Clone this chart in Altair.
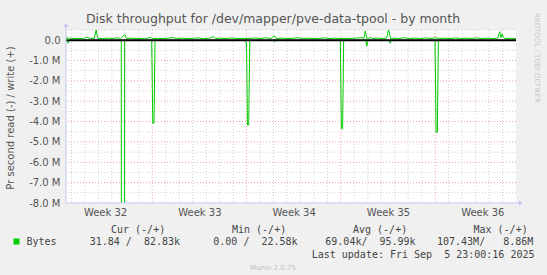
import altair as alt
import pandas as pd

TITLE = "Disk throughput for /dev/mapper/pve-data-tpool - by month"
Y_TITLE = "Pr second read (-) / write (+)"
SIDE_TEXT = "RRDTOOL / TOBI OETIKER"
FOOTER = "Munin 2.0.75"

# x = days since Monday 4 Aug 2025 00:00 (start of ISO week 32); y = MB/s
write_day = [0.60, 0.66, 0.74, 0.85, 1.2, 1.6, 1.9, 2.15, 2.4, 2.7, 2.84, 2.95, 3.3, 3.7, 4.1, 4.4,
             4.65, 4.96, 5.08, 5.4, 5.8, 6.2, 6.5, 6.87, 7.0, 7.4, 7.8, 8.2, 8.59, 8.8, 9.2, 9.6,
             10.0, 10.4, 10.8, 11.2, 11.56, 11.7, 12.1, 12.5, 12.9, 13.3, 13.7, 14.2, 14.6, 15.0,
             15.4, 15.8, 16.05, 16.2, 16.6, 17.0, 17.4, 17.8, 18.2, 18.6, 19.0, 19.4, 19.8, 20.2,
             20.6, 20.95, 21.3, 21.7, 22.1, 22.5, 22.72, 22.81, 22.95, 23.18, 23.35, 23.7, 24.1,
             24.4, 24.54, 24.7, 24.96, 25.3, 25.7, 26.1, 26.5, 26.9, 27.3, 27.7, 28.0, 28.3, 28.7,
             29.1, 29.5, 29.9, 30.3, 30.7, 31.1, 31.5, 31.9, 32.3, 32.65, 32.79, 32.88, 32.97,
             33.07, 33.2, 33.6, 34.0]
write_mb = [0.08, 0.16, 0.03, 0.10, 0.08, 0.09, 0.07, 0.15, 0.08, 0.09, 0.50, 0.09, 0.08, 0.10, 0.08, 0.12,
            0.08, 0.28, 0.08, 0.10, 0.08, 0.09, 0.07, 0.14, 0.08, 0.09, 0.08, 0.10, 0.13, 0.08, 0.10, 0.08,
            0.09, 0.11, 0.08, 0.09, 0.18, 0.08, 0.10, 0.08, 0.11, 0.08, 0.09, 0.08, 0.11, 0.08,
            0.12, 0.08, 0.22, 0.08, 0.10, 0.08, 0.09, 0.12, 0.08, 0.10, 0.08, 0.09, 0.11, 0.08,
            0.10, 0.08, 0.09, 0.08, 0.10, 0.12, 0.10, 0.45, 0.05, 0.14, 0.08, 0.10, 0.08,
            0.11, 0.52, 0.07, 0.10, 0.08, 0.12, 0.08, 0.10, 0.08, 0.11, 0.08, 0.12, 0.08, 0.10,
            0.08, 0.11, 0.08, 0.10, 0.08, 0.11, 0.08, 0.10, 0.08, 0.10, 0.42, 0.12, 0.30,
            0.14, 0.08, 0.09, 0.08]

read_day = [0.60, 0.70, 0.76, 0.84, 4.70, 4.78, 4.87, 4.95, 6.96, 7.04, 7.13, 7.21, 13.85, 13.93,
            14.00, 14.07, 14.16, 14.24, 16.00, 16.10, 16.20, 20.96, 21.04, 21.13, 21.21, 22.85,
            22.92, 23.00, 23.08, 24.58, 24.66, 24.75, 27.99, 28.07, 28.16, 28.24, 34.00]
read_mb = [-0.01, -0.02, -0.15, -0.01, -0.01, -107.43, -107.43, -0.01, -0.01, -4.08, -4.08, -0.01, -0.01, -0.12,
           -0.12, -4.17, -4.17, -0.01, -0.01, -0.08, -0.01, -0.01, -4.35, -4.35, -0.01, -0.01,
           -0.30, -0.05, -0.01, -0.01, -0.15, -0.01, -0.01, -4.52, -4.52, -0.01, -0.01]

week_label_days = [3.5, 10.5, 17.5, 24.5, 31.5]
week_line_days = [7, 14, 21, 28]
day_line_days = [d for d in range(1, 34) if d % 7 != 0]
y_tick_values = [0, -1, -2, -3, -4, -5, -6, -7, -8]
y_major_lines = [-1, -2, -3, -4, -5, -6, -7]
y_minor_lines = [0.5, -0.5, -1.5, -2.5, -3.5, -4.5, -5.5, -6.5, -7.5]

legend_headers = ["Cur (-/+)", "Min (-/+)", "Avg (-/+)", "Max (-/+)"]
legend_name = "Bytes"
legend_values = ["31.84 /  82.83k", "0.00 /  22.58k", "69.04k/  95.99k", "107.43M/   8.86M"]
last_update = "Last update: Fri Sep  5 23:00:16 2025"

GREEN = "#00CC00"
AXIS_COL = "#C4C4F4"
TEXT_COL = "#555555"
W, H = 450, 173
PAD_L, PAD_T = 66, 30

xs = alt.Scale(domain=[0.6, 34.0], nice=False, zero=False)
ys = alt.Scale(domain=[-8, 0.5], nice=False, zero=False)

x_axis = alt.Axis(values=week_label_days, labelExpr="'Week ' + format(32 + (datum.value - 3.5) / 7, 'd')",
                  grid=False, domain=False, ticks=False, labelFontSize=10, labelColor=TEXT_COL,
                  labelFont="DejaVu Sans", labelPadding=4, title=None)
y_axis = alt.Axis(values=y_tick_values,
                  labelExpr="datum.value == 0 ? '0.0' : '-' + format(-datum.value, '.1f') + ' M'",
                  grid=False, domain=False, ticks=False, labelFontSize=10, labelColor=TEXT_COL,
                  labelFont="DejaVu Sans", labelPadding=6, title=None)

X = alt.X("day:Q", scale=xs, axis=x_axis)
Y = alt.Y("mb:Q", scale=ys, axis=y_axis)

layers = []

layers.append(alt.Chart(pd.DataFrame({"day": day_line_days})).mark_rule(
    color="#D0D0D0", strokeWidth=1, strokeDash=[1, 2]).encode(x=X))
layers.append(alt.Chart(pd.DataFrame({"mb": y_minor_lines})).mark_rule(
    color="#D0D0D0", strokeWidth=1, strokeDash=[1, 2]).encode(y=Y))
layers.append(alt.Chart(pd.DataFrame({"day": week_line_days})).mark_rule(
    color="#EBA0A0", strokeWidth=1, strokeDash=[1, 2]).encode(x=X))
layers.append(alt.Chart(pd.DataFrame({"mb": y_major_lines})).mark_rule(
    color="#EBA0A0", strokeWidth=1, strokeDash=[1, 2]).encode(y=Y))

layers.append(alt.Chart(pd.DataFrame({"day": read_day, "mb": read_mb})).mark_line(
    color=GREEN, strokeWidth=1, clip=True).encode(x=X, y=Y, order="day:Q"))

layers.append(alt.Chart(pd.DataFrame({"mb": [0]})).mark_rule(color="black", strokeWidth=2).encode(y=Y))

layers.append(alt.Chart(pd.DataFrame({"day": write_day, "mb": write_mb})).mark_line(
    color=GREEN, strokeWidth=1, clip=True).encode(x=X, y=Y, order="day:Q"))

# axis lines with arrows
layers.append(alt.Chart(pd.DataFrame({"a": [0]})).mark_rule(color=AXIS_COL, strokeWidth=1).encode(
    x=alt.value(0), y=alt.value(H), y2=alt.value(-5)))
layers.append(alt.Chart(pd.DataFrame({"a": [0]})).mark_rule(color=AXIS_COL, strokeWidth=1).encode(
    x=alt.value(0), x2=alt.value(W + 4), y=alt.value(H)))
layers.append(alt.Chart(pd.DataFrame({"a": [0]})).mark_point(
    shape="triangle-up", filled=True, size=22, color=AXIS_COL, opacity=1).encode(
    x=alt.value(0), y=alt.value(-5)))
layers.append(alt.Chart(pd.DataFrame({"a": [0]})).mark_point(
    shape="triangle-right", filled=True, size=22, color=AXIS_COL, opacity=1).encode(
    x=alt.value(W + 5), y=alt.value(H)))


def txt(s, x, y, size=10, color="#444444", font="DejaVu Sans Mono", align="left", angle=0):
    s = s.replace(" ", "\u00a0") if font == "DejaVu Sans Mono" else s
    return alt.Chart(pd.DataFrame({"t": [s]})).mark_text(
        align=align, baseline="alphabetic", fontSize=size, font=font, color=color, angle=angle
    ).encode(x=alt.value(x), y=alt.value(y), text="t:N")


layers.append(txt(TITLE, 273 - PAD_L, 23 - PAD_T, size=12.5, color="#555555", font="DejaVu Sans", align="center"))
layers.append(txt(Y_TITLE, 14 - PAD_L, 118 - PAD_T, size=10, color=TEXT_COL, font="DejaVu Sans", align="center", angle=270))
layers.append(txt(SIDE_TEXT, 535 - PAD_L, 58 - PAD_T, size=7, color="#C8C8C8", font="DejaVu Sans", align="center", angle=90))

hx = [111, 232, 353, 473.5]
for h, x in zip(legend_headers, hx):
    layers.append(txt(h, x - PAD_L, 232.5 - PAD_T))
layers.append(alt.Chart(pd.DataFrame({"a": [0]})).mark_point(
    shape="square", filled=True, size=36, color=GREEN, opacity=1).encode(
    x=alt.value(16.5 - PAD_L), y=alt.value(241.5 - PAD_T)))
layers.append(txt(legend_name, 26.5 - PAD_L, 245 - PAD_T))
vx = [89.7, 213.3, 325.3, 437]
for v, x in zip(legend_values, vx):
    layers.append(txt(v, x - PAD_L, 245 - PAD_T))
layers.append(txt(last_update, 311.7 - PAD_L, 258 - PAD_T))
layers.append(txt(FOOTER, 273 - PAD_L, 270 - PAD_T, size=7, color="#C0C0C0", font="DejaVu Sans", align="center"))

chart = alt.layer(*layers).properties(
    width=W, height=H,
    padding={"left": PAD_L, "top": PAD_T, "right": 547 - PAD_L - W, "bottom": 275 - PAD_T - H},
    autosize=alt.AutoSizeParams(type="none"),
).configure(background="#F0F0F0").configure_view(fill="white", strokeWidth=0)

chart.save("out.html", embed_options={"renderer": "svg", "actions": False})
